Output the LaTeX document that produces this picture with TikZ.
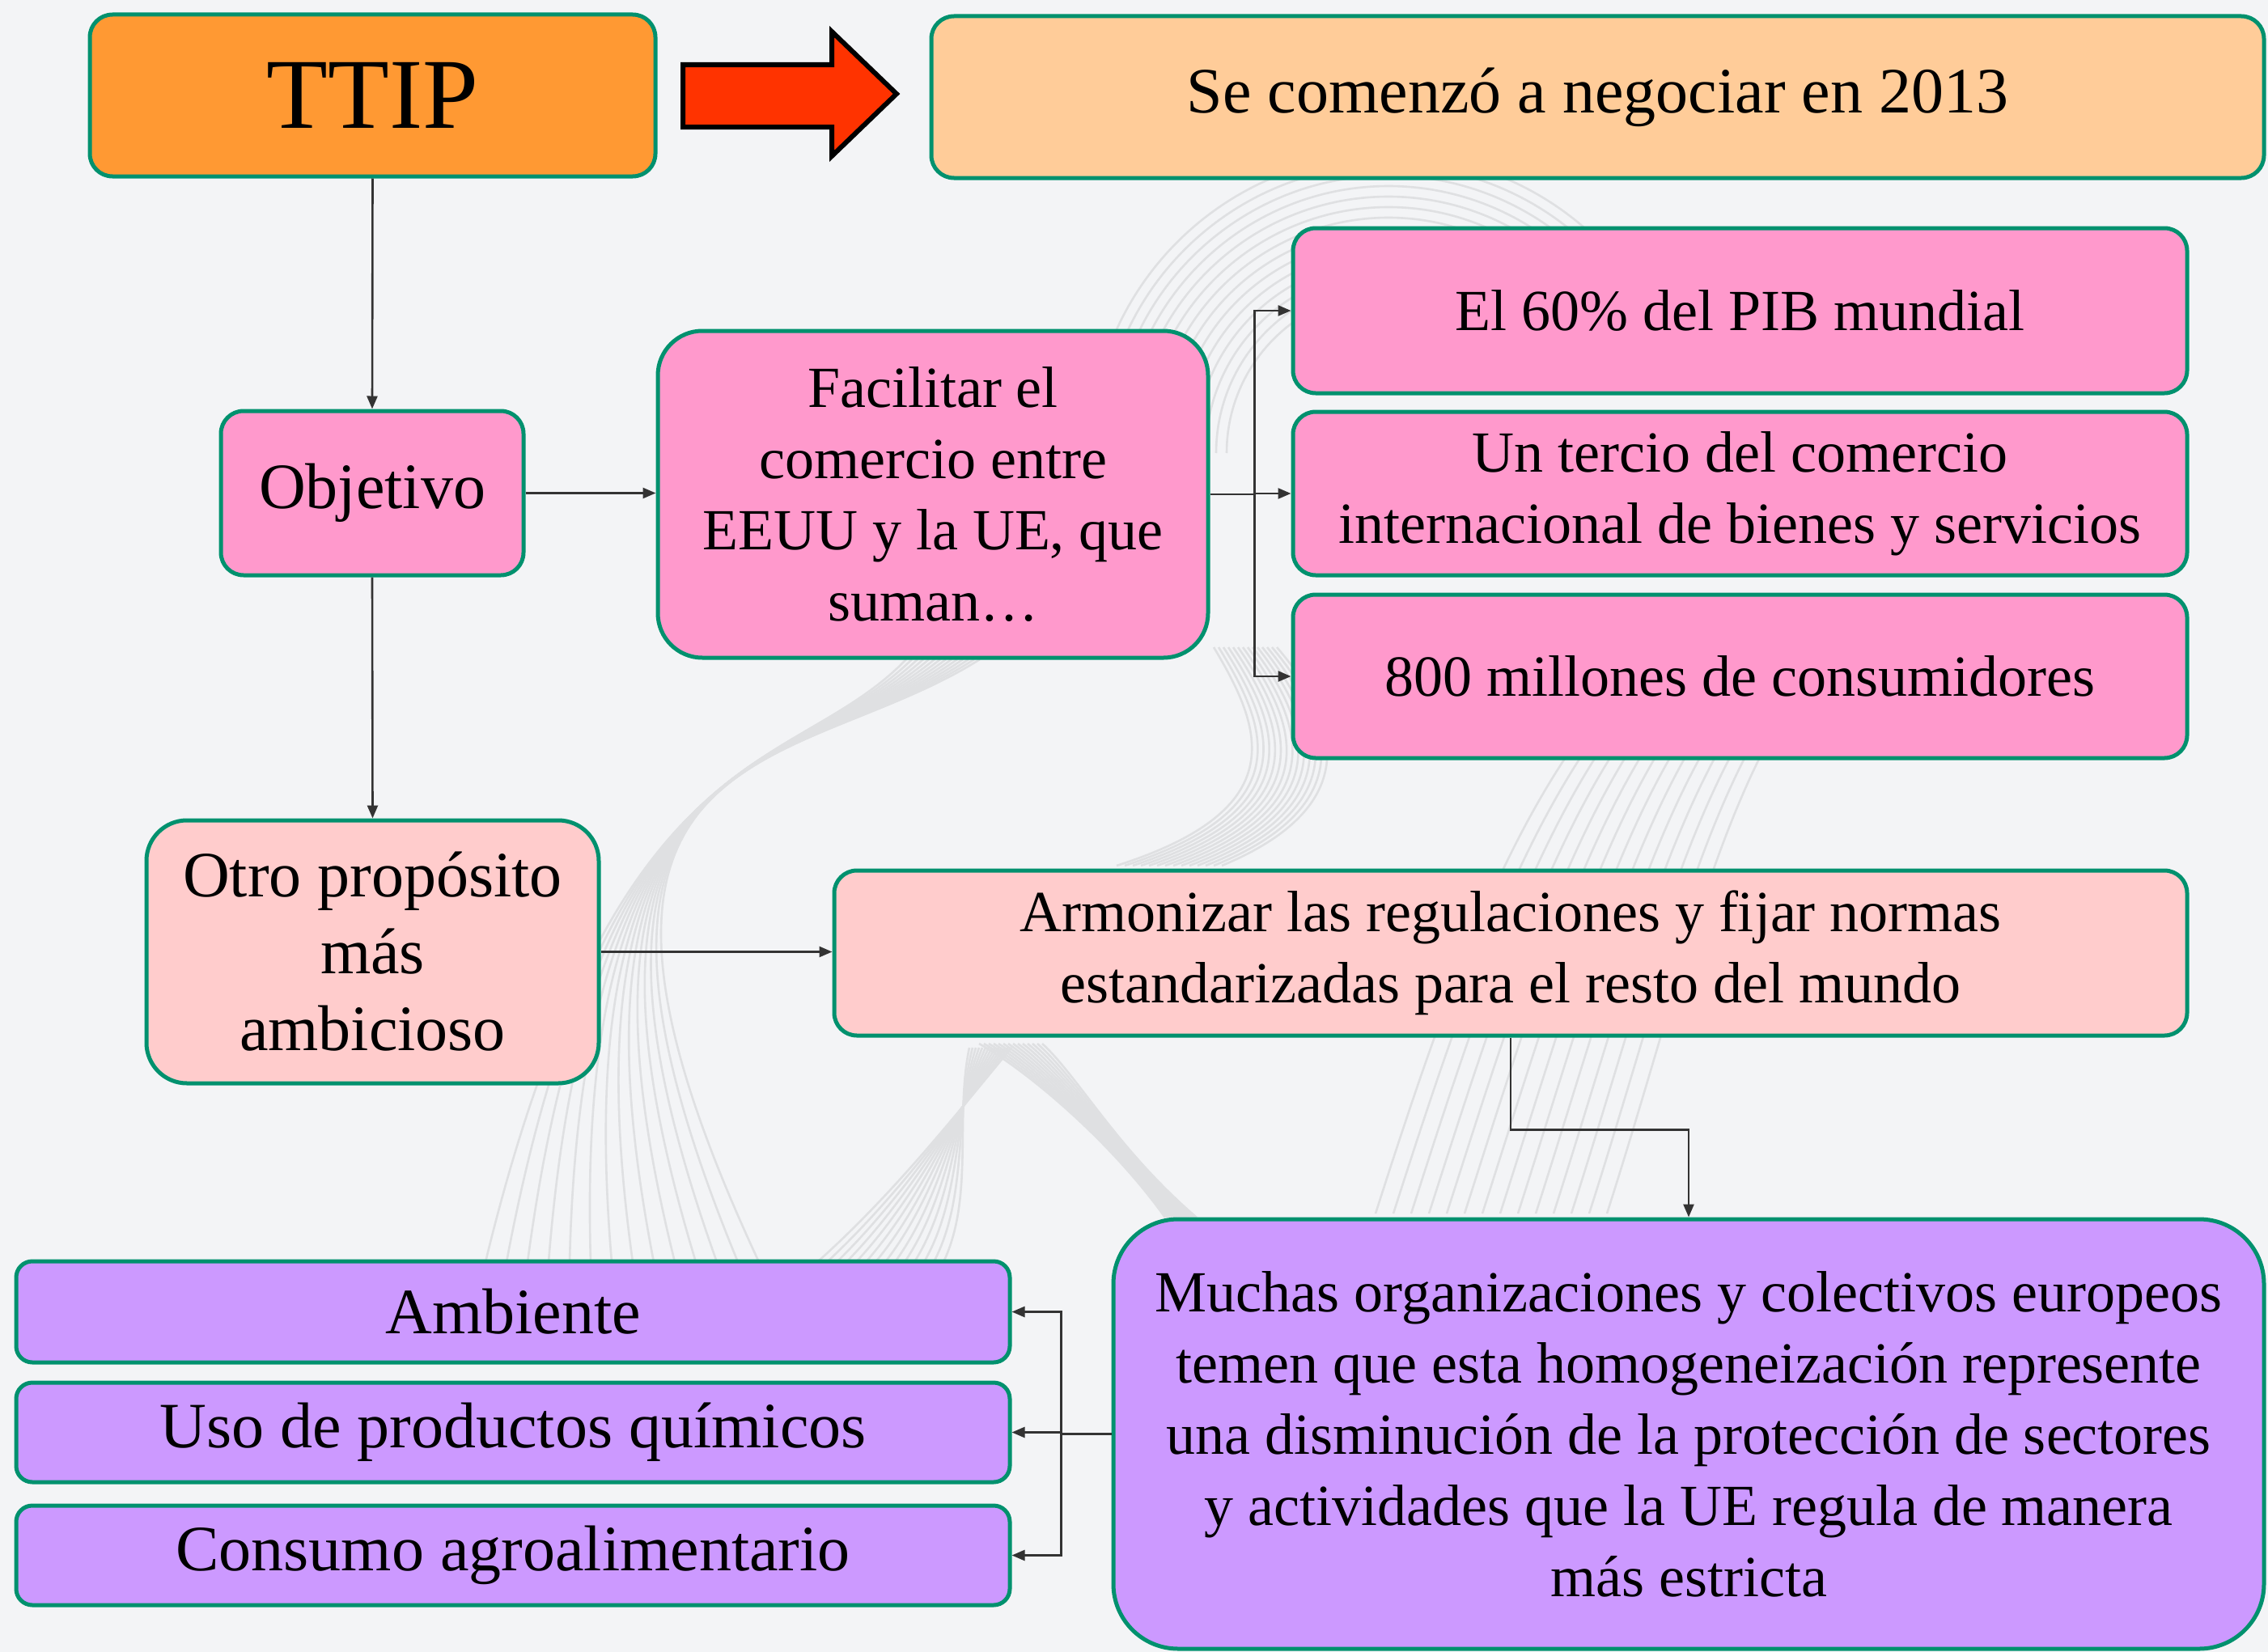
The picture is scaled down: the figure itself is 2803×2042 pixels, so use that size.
\documentclass[tikz,border=0pt]{standalone}
\usepackage{fontspec}
\setmainfont{Liberation Serif}
\usetikzlibrary{arrows.meta,calc}
\definecolor{bgc}{HTML}{F3F4F6}
\definecolor{bord}{HTML}{00916E}
\definecolor{orangec}{HTML}{FF9933}
\definecolor{peach}{HTML}{FFCC99}
\definecolor{pinkc}{HTML}{FF99CC}
\definecolor{lpink}{HTML}{FFCCCC}
\definecolor{lav}{HTML}{CC99FF}
\definecolor{redc}{HTML}{FF3300}
\definecolor{deco}{HTML}{DFE0E2}
\begin{document}
\begin{tikzpicture}[x=1pt,y=-1pt,
  box/.style={draw=bord,line width=5pt,rounded corners=#1,align=center,inner sep=0pt,
    font=\fontsize{72}{88}\selectfont},
  box/.default=28pt,
  big/.style={font=\fontsize{80}{95}\selectfont},
  conn/.style={draw=black!80,line width=2.6pt,-{Triangle[length=16pt,width=13pt]}},
  line/.style={draw=black!80,line width=2.6pt},
  decol/.style={draw=deco,line width=2.6pt}]
\fill[bgc] (0,0) rectangle (2803,2042);
\useasboundingbox (0,0) rectangle (2803,2042);
% background decoration (faint curves)
\foreach \i in {0,...,13}{
  \draw[decol] (1716,560) ++({180}:{200+13*\i}) arc[start angle=180,end angle=330,radius={200+13*\i}];
  \draw[decol] ({1120+7*\i},815) .. controls (980,960) and ({760-10*\i},900) .. ({600+26*\i},1560);
  \draw[decol] ({1210+6*\i},1290) .. controls ({1280+4*\i},1330) and ({1380},{1420}) .. ({1440+3*\i},1505);
  \draw[decol] ({1250-4*\i},1295) .. controls (1180,1380) and ({1100+8*\i},1480) .. ({1010+12*\i},1560);
  \draw[decol] ({1700+22*\i},1500) .. controls ({1780+22*\i},1250) and ({1850+20*\i},1050) .. ({1960+18*\i},900);
  \draw[decol] ({1500+6*\i},800) .. controls ({1560+8*\i},900) and ({1600+6*\i},1000) .. ({1380+10*\i},1070);
}
% nodes
\node[box,fill=orangec,minimum width=699pt,minimum height=200pt,font=\fontsize{124}{130}\selectfont] (ttip) at (460.5,118) {TTIP};
\node[box,big,fill=peach,minimum width=1647pt,minimum height=200pt] (se) at (1974.5,120) {Se comenzó a negociar en 2013};
\node[box,big,fill=pinkc,minimum width=374pt,minimum height=203pt] (obj) at (460,609.5) {Objetivo};
\node[box=55pt,fill=pinkc,minimum width=680pt,minimum height=404pt] (fac) at (1153,611) {Facilitar el\\comercio entre\\EEUU y la UE, que\\suman\ldots};
\node[box,fill=pinkc,minimum width=1105pt,minimum height=204pt] (pib) at (2150.5,384) {El 60\% del PIB mundial};
\node[box,fill=pinkc,minimum width=1105pt,minimum height=202pt] (ter) at (2150.5,610) {Un tercio del comercio\\internacional de bienes y servicios};
\node[box,fill=pinkc,minimum width=1105pt,minimum height=202pt] (cons) at (2150.5,836) {800 millones de consumidores};
\node[box=50pt,big,fill=lpink,minimum width=559pt,minimum height=325pt] (otro) at (460.5,1176.5) {Otro propósito\\más\\ambicioso};
\node[box,fill=lpink,minimum width=1672pt,minimum height=204pt] (arm) at (1867,1178) {Armonizar las regulaciones y fijar normas\\estandarizadas para el resto del mundo};
\node[box=80pt,fill=lav,minimum width=1422pt,minimum height=531pt] (much) at (2087,1772.5) {Muchas organizaciones y colectivos europeos\\temen que esta homogeneización represente\\una disminución de la protección de sectores\\y actividades que la UE regula de manera\\más estricta};
\node[box=20pt,big,fill=lav,minimum width=1228pt,minimum height=125pt] (amb) at (634,1621.5) {Ambiente};
\node[box=20pt,big,fill=lav,minimum width=1228pt,minimum height=123pt] (uso) at (634,1770.5) {Uso de productos químicos};
\node[box=20pt,big,fill=lav,minimum width=1228pt,minimum height=123pt] (agro) at (634,1922.5) {Consumo agroalimentario};
% big red arrow
\draw[fill=redc,draw=black,line width=6pt,line join=miter] (844,80) -- (1028,80) -- (1028,39) -- (1108,116) -- (1028,193) -- (1028,157) -- (844,157) -- cycle;
% connectors
\draw[conn] (ttip.south) -- (obj.north);
\draw[conn] (obj.south) -- (otro.north);
\draw[conn] (obj.east) -- (obj.east -| fac.west);
\coordinate (br1) at ($(fac.east)+(55,0)$);
\draw[line] (fac.east) -- (br1);
\draw[conn] (br1) |- (pib.west);
\draw[conn] (br1) |- (ter.west);
\draw[conn] (br1) |- (cons.west);
\draw[conn] (otro.east) -- (otro.east -| arm.west);
\draw[conn] (arm.south) -- ++(0,114) -| (much.north);
\coordinate (br2) at ($(much.west)+(-62,0)$);
\draw[line] (much.west) -- (br2);
\draw[conn] (br2) |- (amb.east);
\draw[conn] (br2) |- (uso.east);
\draw[conn] (br2) |- (agro.east);
\end{tikzpicture}
\end{document}
